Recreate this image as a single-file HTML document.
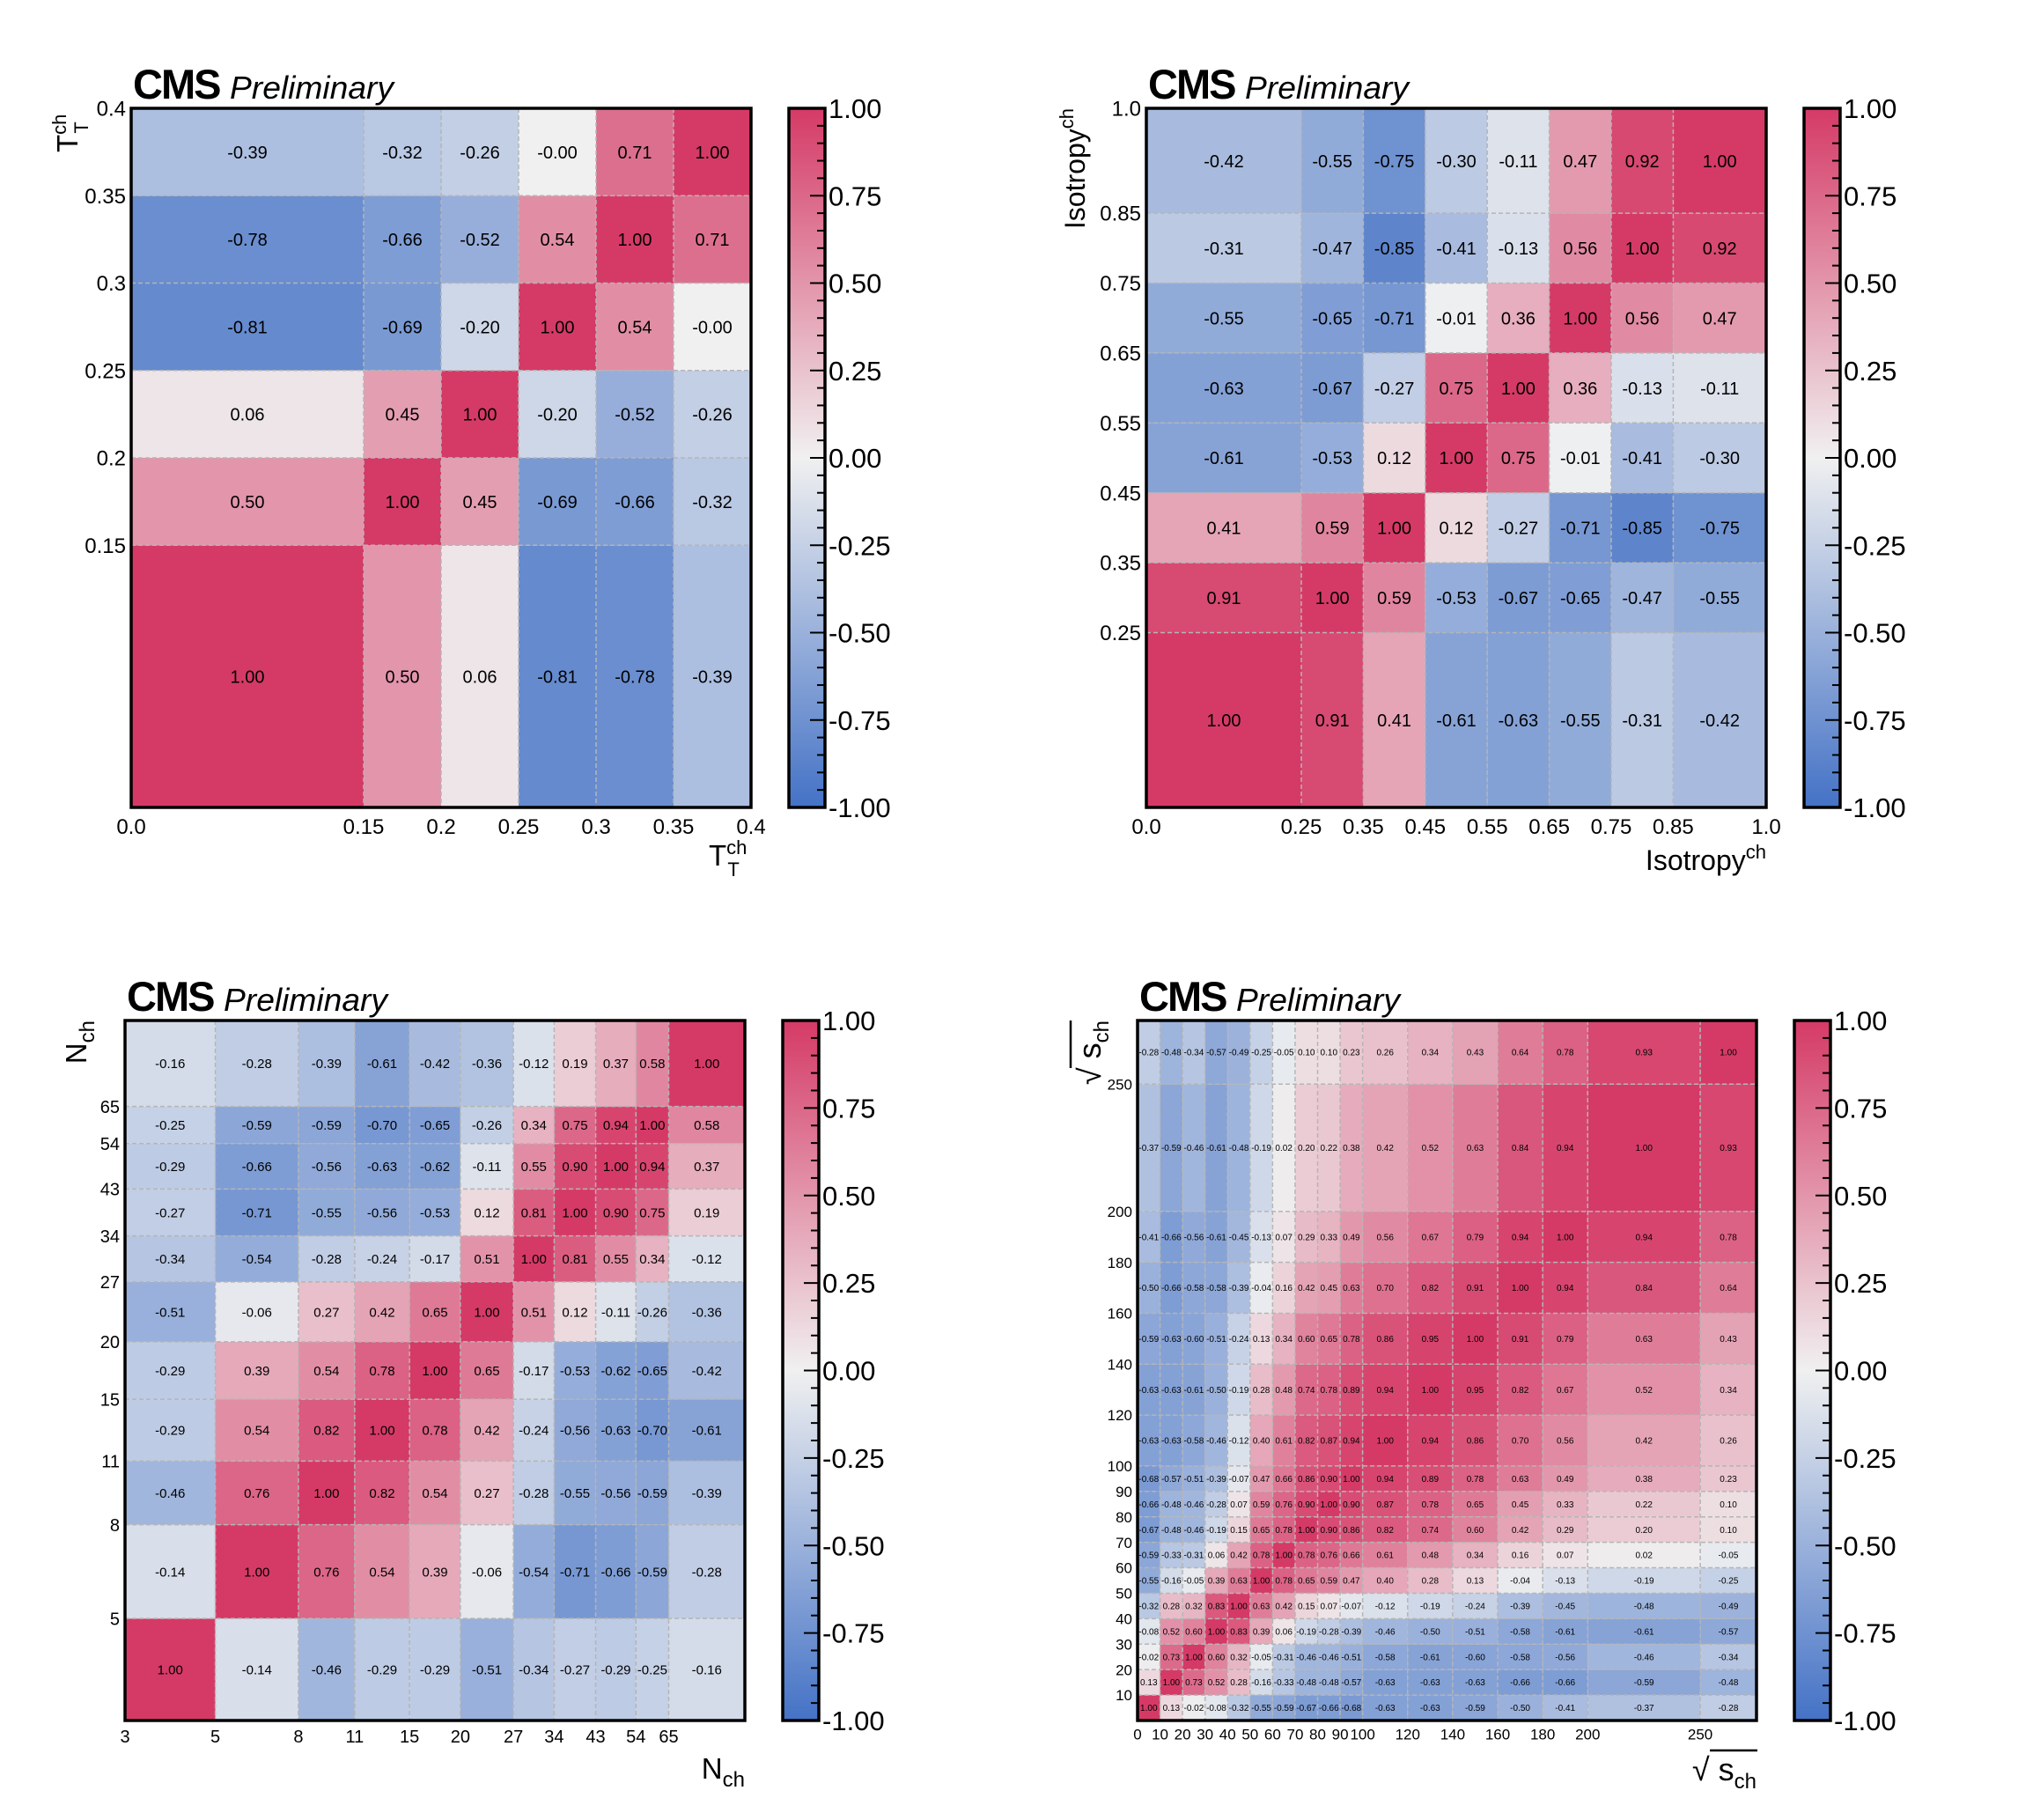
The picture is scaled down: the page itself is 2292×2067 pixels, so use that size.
<!DOCTYPE html>
<html><head><meta charset="utf-8"><style>
html,body{margin:0;padding:0;background:#fff;}
svg{display:block;font-family:"Liberation Sans",sans-serif;}
</style></head><body>
<svg id="fig" xmlns="http://www.w3.org/2000/svg" width="2292" height="2067" viewBox="0 0 2292 2067">
<defs>
<linearGradient id="cbgrad" x1="0" y1="1" x2="0" y2="0">
<stop offset="0" stop-color="rgb(68,114,198)"/>
<stop offset="0.5" stop-color="rgb(240,240,240)"/>
<stop offset="1" stop-color="rgb(213,58,102)"/>
</linearGradient>
</defs>
</svg>
<script>
// ---- Panel 1: T_T^ch ----
const p1Edges = [0, 0.15, 0.2, 0.25, 0.3, 0.35, 0.4];
const p1XTicks = ["0.0","0.15","0.2","0.25","0.3","0.35","0.4"];
const p1YTicks = ["","0.15","0.2","0.25","0.3","0.35","0.4"];
const p1Matrix = [
 [1.00,0.50,0.06,-0.81,-0.78,-0.39],
 [0.50,1.00,0.45,-0.69,-0.66,-0.32],
 [0.06,0.45,1.00,-0.20,-0.52,-0.26],
 [-0.81,-0.69,-0.20,1.00,0.54,-0.0],
 [-0.78,-0.66,-0.52,0.54,1.00,0.71],
 [-0.39,-0.32,-0.26,-0.0,0.71,1.00]
];
// ---- Panel 2: Isotropy^ch ----
const p2Edges = [0,0.25,0.35,0.45,0.55,0.65,0.75,0.85,1.0];
const p2XTicks = ["0.0","0.25","0.35","0.45","0.55","0.65","0.75","0.85","1.0"];
const p2YTicks = ["","0.25","0.35","0.45","0.55","0.65","0.75","0.85","1.0"];
const p2Matrix = [
 [1.00,0.91,0.41,-0.61,-0.63,-0.55,-0.31,-0.42],
 [0.91,1.00,0.59,-0.53,-0.67,-0.65,-0.47,-0.55],
 [0.41,0.59,1.00,0.12,-0.27,-0.71,-0.85,-0.75],
 [-0.61,-0.53,0.12,1.00,0.75,-0.01,-0.41,-0.30],
 [-0.63,-0.67,-0.27,0.75,1.00,0.36,-0.13,-0.11],
 [-0.55,-0.65,-0.71,-0.01,0.36,1.00,0.56,0.47],
 [-0.31,-0.47,-0.85,-0.41,-0.13,0.56,1.00,0.92],
 [-0.42,-0.55,-0.75,-0.30,-0.11,0.47,0.92,1.00]
];
// ---- Panel 3: N_ch (log axes) ----
const p3Edges = [3,5,8,11,15,20,27,34,43,54,65,100];
const p3XTicks = ["3","5","8","11","15","20","27","34","43","54","65",""];
const p3YTicks = ["","5","8","11","15","20","27","34","43","54","65",""];
const p3Matrix = [
 [1.00,-0.14,-0.46,-0.29,-0.29,-0.51,-0.34,-0.27,-0.29,-0.25,-0.16],
 [-0.14,1.00,0.76,0.54,0.39,-0.06,-0.54,-0.71,-0.66,-0.59,-0.28],
 [-0.46,0.76,1.00,0.82,0.54,0.27,-0.28,-0.55,-0.56,-0.59,-0.39],
 [-0.29,0.54,0.82,1.00,0.78,0.42,-0.24,-0.56,-0.63,-0.70,-0.61],
 [-0.29,0.39,0.54,0.78,1.00,0.65,-0.17,-0.53,-0.62,-0.65,-0.42],
 [-0.51,-0.06,0.27,0.42,0.65,1.00,0.51,0.12,-0.11,-0.26,-0.36],
 [-0.34,-0.54,-0.28,-0.24,-0.17,0.51,1.00,0.81,0.55,0.34,-0.12],
 [-0.27,-0.71,-0.55,-0.56,-0.53,0.12,0.81,1.00,0.90,0.75,0.19],
 [-0.29,-0.66,-0.56,-0.63,-0.62,-0.11,0.55,0.90,1.00,0.94,0.37],
 [-0.25,-0.59,-0.59,-0.70,-0.65,-0.26,0.34,0.75,0.94,1.00,0.58],
 [-0.16,-0.28,-0.39,-0.61,-0.42,-0.36,-0.12,0.19,0.37,0.58,1.00]
];
// ---- Panel 4: sqrt(s_ch) ----
const p4Edges = [0,10,20,30,40,50,60,70,80,90,100,120,140,160,180,200,250,275];
const p4XTicks = ["0","10","20","30","40","50","60","70","80","90","100","120","140","160","180","200","250",""];
const p4YTicks = ["","10","20","30","40","50","60","70","80","90","100","120","140","160","180","200","250",""];
const p4Matrix = [
 [1.00,0.13,-0.02,-0.08,-0.32,-0.55,-0.59,-0.67,-0.66,-0.68,-0.63,-0.63,-0.59,-0.50,-0.41,-0.37,-0.28],
 [0.13,1.00,0.73,0.52,0.28,-0.16,-0.33,-0.48,-0.48,-0.57,-0.63,-0.63,-0.63,-0.66,-0.66,-0.59,-0.48],
 [-0.02,0.73,1.00,0.60,0.32,-0.05,-0.31,-0.46,-0.46,-0.51,-0.58,-0.61,-0.60,-0.58,-0.56,-0.46,-0.34],
 [-0.08,0.52,0.60,1.00,0.83,0.39,0.06,-0.19,-0.28,-0.39,-0.46,-0.50,-0.51,-0.58,-0.61,-0.61,-0.57],
 [-0.32,0.28,0.32,0.83,1.00,0.63,0.42,0.15,0.07,-0.07,-0.12,-0.19,-0.24,-0.39,-0.45,-0.48,-0.49],
 [-0.55,-0.16,-0.05,0.39,0.63,1.00,0.78,0.65,0.59,0.47,0.40,0.28,0.13,-0.04,-0.13,-0.19,-0.25],
 [-0.59,-0.33,-0.31,0.06,0.42,0.78,1.00,0.78,0.76,0.66,0.61,0.48,0.34,0.16,0.07,0.02,-0.05],
 [-0.67,-0.48,-0.46,-0.19,0.15,0.65,0.78,1.00,0.90,0.86,0.82,0.74,0.60,0.42,0.29,0.20,0.10],
 [-0.66,-0.48,-0.46,-0.28,0.07,0.59,0.76,0.90,1.00,0.90,0.87,0.78,0.65,0.45,0.33,0.22,0.10],
 [-0.68,-0.57,-0.51,-0.39,-0.07,0.47,0.66,0.86,0.90,1.00,0.94,0.89,0.78,0.63,0.49,0.38,0.23],
 [-0.63,-0.63,-0.58,-0.46,-0.12,0.40,0.61,0.82,0.87,0.94,1.00,0.94,0.86,0.70,0.56,0.42,0.26],
 [-0.63,-0.63,-0.61,-0.50,-0.19,0.28,0.48,0.74,0.78,0.89,0.94,1.00,0.95,0.82,0.67,0.52,0.34],
 [-0.59,-0.63,-0.60,-0.51,-0.24,0.13,0.34,0.60,0.65,0.78,0.86,0.95,1.00,0.91,0.79,0.63,0.43],
 [-0.50,-0.66,-0.58,-0.58,-0.39,-0.04,0.16,0.42,0.45,0.63,0.70,0.82,0.91,1.00,0.94,0.84,0.64],
 [-0.41,-0.66,-0.56,-0.61,-0.45,-0.13,0.07,0.29,0.33,0.49,0.56,0.67,0.79,0.94,1.00,0.94,0.78],
 [-0.37,-0.59,-0.46,-0.61,-0.48,-0.19,0.02,0.20,0.22,0.38,0.42,0.52,0.63,0.84,0.94,1.00,0.93],
 [-0.28,-0.48,-0.34,-0.57,-0.49,-0.25,-0.05,0.10,0.10,0.23,0.26,0.34,0.43,0.64,0.78,0.93,1.00]
];
const cbTickLabels = ["-1.00","-0.75","-0.50","-0.25","0.00","0.25","0.50","0.75","1.00"];

const NS = "http://www.w3.org/2000/svg";
const svg = document.getElementById("fig");
function mk(tag, attrs, parent){
  const e = document.createElementNS(NS, tag);
  for (const k in attrs) e.setAttribute(k, attrs[k]);
  (parent||svg).appendChild(e);
  return e;
}
function color(v){
  const B=[68,114,198], W=[240,240,240], R=[213,58,102];
  let a,b,t;
  if (v<0){a=W;b=B;t=-v;} else {a=W;b=R;t=v;}
  t=Math.min(1,t);
  return "rgb("+a.map((c,i)=>Math.round(c+(b[i]-c)*t)).join(",")+")";
}
function fmt(v){
  if (Object.is(v,-0)) return "-0.00";
  return v.toFixed(2);
}
function panel(cfg){
  const g = mk("g",{});
  
  
  const e = cfg.edges, lo=e[0], hi=e[e.length-1];
  const tr = cfg.log ? (v=>Math.log(v)) : (v=>v);
  const fx = v => cfg.x0 + (tr(v)-tr(lo))/(tr(hi)-tr(lo))*(cfg.x1-cfg.x0);
  const fy = v => cfg.y1 - (tr(v)-tr(lo))/(tr(hi)-tr(lo))*(cfg.y1-cfg.y0);
  const n = e.length-1;
  for (let r=0;r<n;r++){
    for (let c=0;c<n;c++){
      const v = cfg.matrix[r][c];
      const xa=fx(e[c]), xb=fx(e[c+1]), ya=fy(e[r+1]), yb=fy(e[r]);
      const rect = mk("rect",{x:xa,y:ya,width:xb-xa,height:yb-ya,fill:color(v)},g);
      
      
    }
  }
  for (let i=1;i<n;i++){
    const lx = mk("line",{x1:fx(e[i]),x2:fx(e[i]),y1:cfg.y0,y2:cfg.y1,stroke:"#b5b5b5","stroke-width":1.5,"stroke-dasharray":"5,3"},g);
    
    
    const ly = mk("line",{x1:cfg.x0,x2:cfg.x1,y1:fy(e[i]),y2:fy(e[i]),stroke:"#b5b5b5","stroke-width":1.5,"stroke-dasharray":"5,3"},g);
    
    
  }
  for (let r=0;r<n;r++){
    for (let c=0;c<n;c++){
      const v = cfg.matrix[r][c];
      const t = mk("text",{x:(fx(e[c])+fx(e[c+1]))/2,y:(fy(e[r])+fy(e[r+1]))/2+cfg.cellFont*0.36,"font-size":cfg.cellFont,"text-anchor":"middle",fill:"#000"},g);
      t.textContent = fmt(v);
      
      
    }
  }
  const fr = mk("rect",{x:cfg.x0,y:cfg.y0,width:cfg.x1-cfg.x0,height:cfg.y1-cfg.y0,fill:"none",stroke:"#000","stroke-width":3.5},g);
  
  
  cfg.xticks.forEach((lab,i)=>{
    if(!lab) return;
    const t = mk("text",{x:fx(e[i]),y:cfg.y1+cfg.tickFont*1.25,"font-size":cfg.tickFont,"text-anchor":"middle"},g);
    t.textContent = lab;
    
    
  });
  cfg.yticks.forEach((lab,i)=>{
    if(!lab) return;
    const t = mk("text",{x:cfg.x0-6,y:fy(e[i])+cfg.tickFont*0.36,"font-size":cfg.tickFont,"text-anchor":"end"},g);
    t.textContent = lab;
    
    
  });
  const ti = mk("text",{x:cfg.x0+2,y:cfg.y0-11,"font-size":47,"font-weight":"bold","letter-spacing":"-2"},g);
  ti.textContent = "CMS";
  
  
  const pr = mk("text",{x:cfg.x0+112,y:cfg.y0-11,"font-size":36,"font-style":"italic","textLength":186,"lengthAdjust":"spacingAndGlyphs"},g);
  pr.textContent = "Preliminary";
  
  
  const cx0=cfg.x1+43, cx1=cfg.x1+84;
  const cb = mk("rect",{x:cx0,y:cfg.y0,width:cx1-cx0,height:cfg.y1-cfg.y0,fill:"url(#cbgrad)",stroke:"#000","stroke-width":3.5},g);
  
  
  const cy = v => cfg.y1 - (v+1)/2*(cfg.y1-cfg.y0);
  for (let k=1;k<40;k++){
    const v=-1+k*0.05, maj=(k%5===0);
    const tk = mk("line",{x1:cx1-(maj?17:9),x2:cx1,y1:cy(v),y2:cy(v),stroke:"#000","stroke-width":2},g);
    
    
  }
  cbTickLabels.forEach((lab,i)=>{
    const v=-1+i*0.25;
    const t = mk("text",{x:cx1+4,y:cy(v)+11,"font-size":31},g);
    t.textContent = lab;
    
    
  });
  cfg.titles(g);
}
function title(g, html, attrs, name){
  const t = mk("text", attrs, g);
  t.innerHTML = html;
  
  
}
function bar(g, attrs){
  const l = mk("line", Object.assign({stroke:"#000","stroke-width":2.5}, attrs), g);
  
  
}
panel({name:"panel-thrust", edges:p1Edges, matrix:p1Matrix, xticks:p1XTicks, yticks:p1YTicks,
  x0:149,x1:853,y0:123,y1:917,cellFont:20,tickFont:24,log:false,
  titles:g=>{
    title(g,'T<tspan dy="-13" font-size="22">ch</tspan><tspan dx="-22" dy="25" font-size="22">T</tspan>',{x:805,y:983,"font-size":33},"x-axis-title");
    title(g,'T<tspan dy="-13" font-size="22">ch</tspan><tspan dx="-22" dy="25" font-size="22">T</tspan>',{x:0,y:0,"font-size":33,transform:"translate(88,173) rotate(-90)"},"y-axis-title");
  }});
panel({name:"panel-isotropy", edges:p2Edges, matrix:p2Matrix, xticks:p2XTicks, yticks:p2YTicks,
  x0:1302,x1:2006,y0:123,y1:917,cellFont:20,tickFont:24,log:false,
  titles:g=>{
    title(g,'Isotropy<tspan dy="-13" font-size="22">ch</tspan>',{x:2006,y:988,"font-size":32,"text-anchor":"end"},"x-axis-title");
    title(g,'Isotropy<tspan dy="-13" font-size="22">ch</tspan>',{x:0,y:0,"font-size":32,"text-anchor":"end",transform:"translate(1232,123) rotate(-90)"},"y-axis-title");
  }});
panel({name:"panel-nch", edges:p3Edges, matrix:p3Matrix, xticks:p3XTicks, yticks:p3YTicks,
  x0:142,x1:846,y0:1159,y1:1954,cellFont:15,tickFont:20,log:true,
  titles:g=>{
    title(g,'N<tspan dy="9" font-size="24">ch</tspan>',{x:846,y:2020,"font-size":33,"text-anchor":"end"},"x-axis-title");
    title(g,'N<tspan dy="9" font-size="24">ch</tspan>',{x:0,y:0,"font-size":33,"text-anchor":"end",transform:"translate(98,1159) rotate(-90)"},"y-axis-title");
  }});
panel({name:"panel-sqrt-s", edges:p4Edges, matrix:p4Matrix, xticks:p4XTicks, yticks:p4YTicks,
  x0:1292,x1:1995,y0:1159,y1:1954,cellFont:10,tickFont:17,log:false,
  titles:g=>{
    title(g,'√ s<tspan dy="9" font-size="24">ch</tspan>',{x:1995,y:2022,"font-size":36,"text-anchor":"end"},"x-axis-title");
    bar(g,{x1:1942,x2:1996,y1:1988,y2:1988});
    const gy = mk("g",{transform:"translate(1250,1159) rotate(-90)"},g);
    title(gy,'√ s<tspan dy="9" font-size="24">ch</tspan>',{x:0,y:0,"font-size":36,"text-anchor":"end"},"y-axis-title");
    bar(gy,{x1:-54,x2:0,y1:-34,y2:-34});
  }});
</script>
</body></html>
